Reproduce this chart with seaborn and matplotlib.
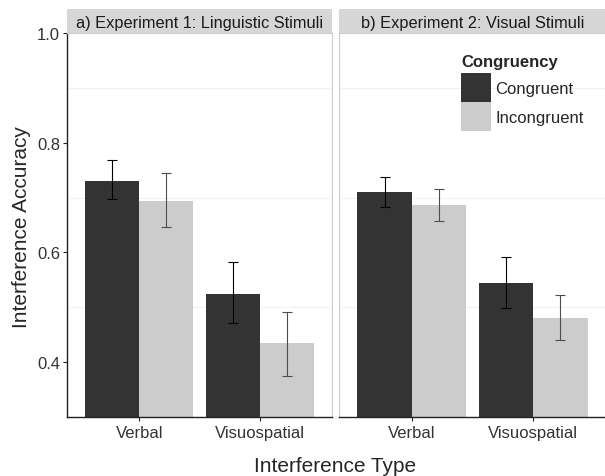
import matplotlib
matplotlib.use('Agg')
import matplotlib.pyplot as plt
import seaborn as sns
import pandas as pd
from matplotlib.patches import Patch

# facet titles, categories and legend levels
panels = ['a) Experiment 1: Linguistic Stimuli', 'b) Experiment 2: Visual Stimuli']
types = ['Verbal', 'Visuospatial']
levels = ['Congruent', 'Incongruent']

# mean accuracy per type (Verbal, Visuospatial)
exp1_cong = [0.731, 0.525]
exp1_incong = [0.694, 0.434]
exp2_cong = [0.710, 0.544]
exp2_incong = [0.687, 0.481]

# error bar ends
exp1_cong_lo = [0.698, 0.471]
exp1_cong_hi = [0.768, 0.582]
exp1_incong_lo = [0.646, 0.375]
exp1_incong_hi = [0.744, 0.491]
exp2_cong_lo = [0.683, 0.499]
exp2_cong_hi = [0.737, 0.592]
exp2_incong_lo = [0.658, 0.440]
exp2_incong_hi = [0.716, 0.522]

rows = []
for p, cong, inc, clo, chi, ilo, ihi in [
        (panels[0], exp1_cong, exp1_incong, exp1_cong_lo, exp1_cong_hi, exp1_incong_lo, exp1_incong_hi),
        (panels[1], exp2_cong, exp2_incong, exp2_cong_lo, exp2_cong_hi, exp2_incong_lo, exp2_incong_hi)]:
    for i, t in enumerate(types):
        rows.append([p, t, 'Congruent', cong[i], clo[i], chi[i]])
        rows.append([p, t, 'Incongruent', inc[i], ilo[i], ihi[i]])
df = pd.DataFrame(rows, columns=['panel', 'type', 'cong', 'acc', 'lo', 'hi'])

sns.set_style('white')
plt.rcParams['font.family'] = ['Liberation Sans', 'DejaVu Sans']

colors = {'Congruent': '#333333', 'Incongruent': '#cccccc'}
err_colors = {'Congruent': '#000000', 'Incongruent': '#4d4d4d'}

W, H = 605, 477
fig = plt.figure(figsize=(6.05, 4.77), dpi=100)

boxes = [(67, 332), (339, 606)]
top, bottom = 34, 418
axes = []
for k, (p, (x0, x1)) in enumerate(zip(panels, boxes)):
    ax = fig.add_axes([x0 / W, 1 - bottom / H, (x1 - x0) / W, (bottom - top) / H])
    sub = df[df.panel == p]
    sns.barplot(data=sub, x='type', y='acc', hue='cong', order=types, hue_order=levels,
                palette=colors, width=0.9, gap=0, errorbar=None, saturation=1,
                legend=False, ax=ax, linewidth=0)
    for cont, lev in zip(ax.containers, levels):
        s = sub[sub.cong == lev].set_index('type').loc[types]
        for bar, m, lo, hi in zip(cont, s.acc, s.lo, s.hi):
            xc = bar.get_x() + bar.get_width() / 2
            ax.errorbar(xc, m, yerr=[[m - lo], [hi - m]], fmt='none',
                        ecolor=err_colors[lev], elinewidth=0.8, capsize=3.5, capthick=0.8)
    ax.set_xlim(-0.6, 1.6)
    ax.set_ylim(0.3, 1.0)
    ax.set_yticks([0.4, 0.6, 0.8, 1.0])
    for gy in [0.5, 0.7, 0.9]:
        ax.axhline(gy, color='#f2f2f2', lw=0.8, zorder=0)
    ax.set_xlabel('')
    ax.set_ylabel('')
    for sp in ax.spines.values():
        sp.set_color('#cccccc')
        sp.set_linewidth(0.8)
    ax.spines['bottom'].set_color('#222222')
    ax.spines['bottom'].set_linewidth(1.0)
    ax.tick_params(axis='x', length=3, width=0.8, color='#222222', labelsize=12,
                   labelcolor='#333333', pad=3, bottom=True)
    if k == 0:
        ax.spines['left'].set_color('#222222')
        ax.spines['left'].set_linewidth(1.0)
        ax.tick_params(axis='y', length=3, width=0.8, color='#222222', labelsize=12,
                       labelcolor='#333333', pad=2, left=True)
        ax.set_yticklabels(['0.4', '0.6', '0.8', '1.0'])
    else:
        ax.tick_params(axis='y', left=False, labelleft=False)
    # facet strip
    sax = fig.add_axes([x0 / W, 1 - top / H, (x1 - x0) / W, 24 / H])
    sax.set_facecolor('#d6d6d6')
    sax.set_xticks([])
    sax.set_yticks([])
    for sp in sax.spines.values():
        sp.set_visible(False)
    sax.text(0.5, 0.45, p, ha='center', va='center', fontsize=11.8, color='#1a1a1a',
             transform=sax.transAxes)
    axes.append(ax)

handles = [Patch(facecolor=colors[l], edgecolor='none') for l in levels]
leg = fig.legend(handles, levels, title='Congruency', loc='upper left',
                 bbox_to_anchor=(461 / W, 1 - 55 / H), frameon=False, fontsize=12,
                 title_fontproperties={'weight': 'bold', 'size': 12},
                 handlelength=1.8, handleheight=2.3, labelspacing=0, handletextpad=0.25,
                 borderpad=0, borderaxespad=0)
leg._legend_box.align = 'left'
leg._legend_box.sep = 3

fig.text(335 / W, 1 - 467 / H, 'Interference Type', ha='center', va='center', fontsize=15)
fig.text(22 / W, 1 - 227 / H, 'Interference Accuracy', ha='center', va='center',
         rotation=90, fontsize=15)

fig.savefig('out.png', dpi=100)
